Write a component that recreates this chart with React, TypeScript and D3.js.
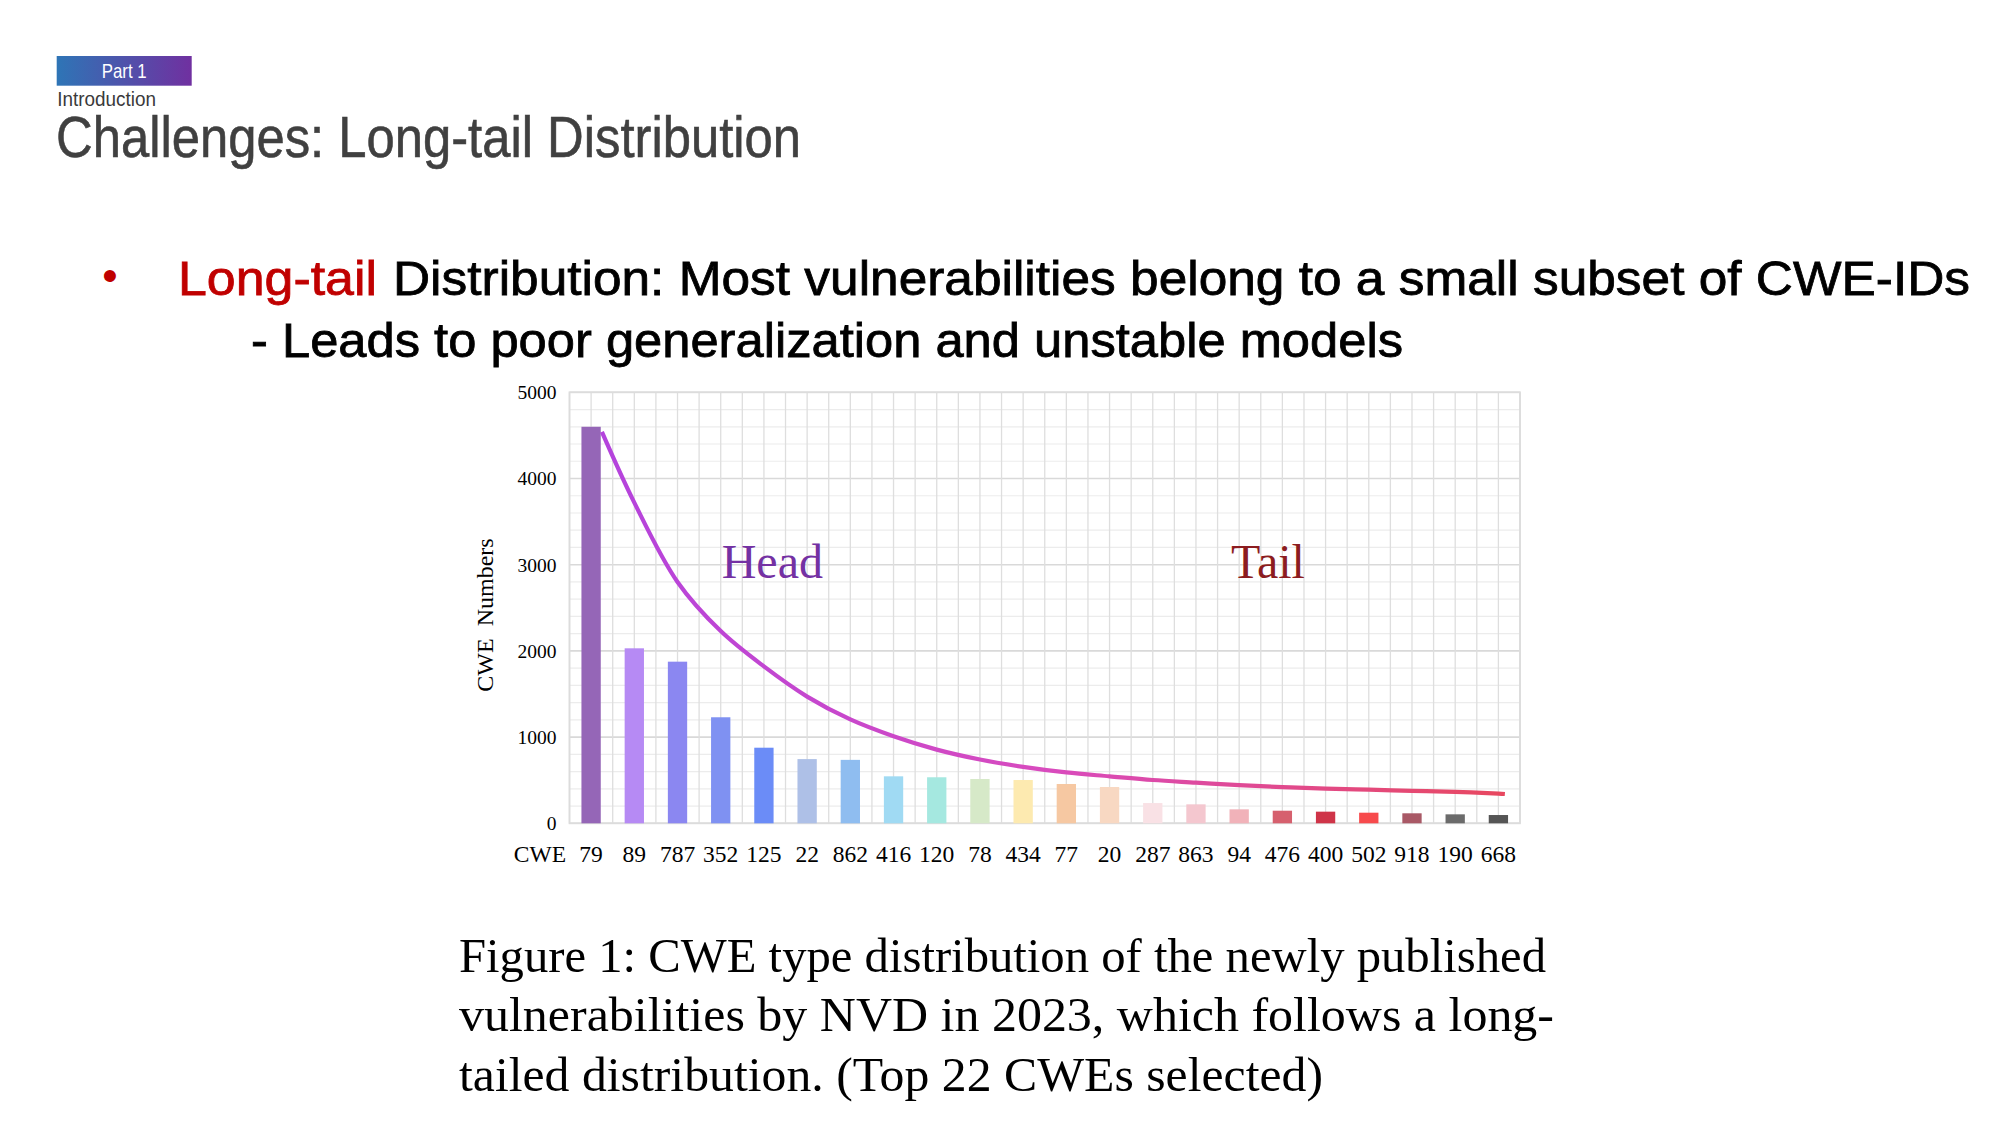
import React from "react";
import * as d3 from "d3";

// CWE categories (x axis) and number of newly published vulnerabilities per CWE
const cweIds = ["79", "89", "787", "352", "125", "22", "862", "416", "120", "78", "434", "77", "20", "287", "863", "94", "476", "400", "502", "918", "190", "668"];
const cweCounts = [4600, 2030, 1875, 1230, 877, 745, 736, 545, 534, 514, 502, 456, 421, 235, 220, 162, 146, 135, 123, 116, 104, 96];
const barColors = [
  "#9566b7", "#b68af4", "#8b87f1", "#7f91f2", "#6b8cf7", "#aec0e7", "#8fbdf0", "#a0daf3",
  "#a5e8e0", "#d6e9c8", "#fdeab0", "#f6c8a2", "#f8d8c2", "#f9e1e5", "#f4c7cf", "#f1b2b9",
  "#d6606e", "#cf3448", "#f74a4c", "#a95966", "#6b6b6b", "#555555",
];

// Smoothed long-tail trend, sampled at category positions (index units)
const trendPos = [0.25, 1, 2, 3, 4, 5, 6, 7, 8, 9, 10, 11, 12, 13, 14, 15, 16, 17, 18, 19, 20, 21, 21.15];
const trendValues = [4540, 3720, 2800, 2230, 1820, 1470, 1205, 1010, 855, 740, 655, 590, 545, 502, 472, 442, 420, 402, 390, 377, 365, 345, 340];

const yTicks = [0, 1000, 2000, 3000, 4000, 5000];
const yMax = 5000;
const yGridStep = 200;

const captionLines = [
  "Figure 1: CWE type distribution of the newly published",
  "vulnerabilities by NVD in 2023, which follows a long-",
  "tailed distribution. (Top 22 CWEs selected)",
];
const captionWidths = [1087, 1095, 864];

const serif = "'Liberation Serif', 'Times New Roman', serif";
const gothic = "'Liberation Sans', Arial, sans-serif";

export default function App() {
  const W = 2000;
  const H = 1125;
  const plot = { left: 569.5, right: 1520, top: 392.3, bottom: 823.3 };

  const x = d3
    .scaleBand<string>()
    .domain(cweIds)
    .range([plot.left, plot.right])
    .paddingInner(0.553)
    .paddingOuter(0.2765);
  const step = x.step();
  const bw = x.bandwidth();
  const y = d3.scaleLinear().domain([0, yMax]).range([plot.bottom, plot.top]);

  const center = (i: number) => (x(cweIds[0]) as number) + bw / 2 + i * step;

  const halfLines = d3.range(0, cweIds.length * 2 + 1).map((k) => plot.left + (k * step) / 2);
  const hLines = d3.range(0, yMax + 1, yGridStep);

  const trend = d3
    .line<number>()
    .x((_, i) => center(trendPos[i]))
    .y((v) => y(v))
    .curve(d3.curveCatmullRom.alpha(0.5))(trendValues) as string;

  return (
    <svg
      width={W}
      height={H}
      viewBox={`0 0 ${W} ${H}`}
      style={{ position: "absolute", left: 0, top: 0, background: "#fff" }}
    >
      <defs>
        <linearGradient id="badgeGrad" x1="0" x2="1" y1="0" y2="0">
          <stop offset="0" stopColor="#2e75b6" />
          <stop offset="1" stopColor="#7030a0" />
        </linearGradient>
        <linearGradient
          id="trendGrad"
          gradientUnits="userSpaceOnUse"
          x1={center(trendPos[0])}
          x2={center(trendPos[trendPos.length - 1])}
          y1={0}
          y2={0}
        >
          <stop offset="0" stopColor="#b443dd" />
          <stop offset="0.5" stopColor="#d94bbd" />
          <stop offset="1" stopColor="#e8485f" />
        </linearGradient>
      </defs>

      {/* Slide header */}
      <rect x={56.7} y={56} width={135} height={29.7} fill="url(#badgeGrad)" />
      <text
        x={124.2}
        y={77.5}
        textAnchor="middle"
        fill="#fff"
        fontFamily={gothic}
        fontSize={21}
        textLength={45}
        lengthAdjust="spacingAndGlyphs"
      >
        Part 1
      </text>
      <text
        x={57.3}
        y={106}
        fill="#3a3a3a"
        fontFamily={gothic}
        fontSize={20}
        textLength={98.7}
        lengthAdjust="spacingAndGlyphs"
      >
        Introduction
      </text>
      <text
        x={56}
        y={157}
        fill="#404040"
        stroke="#404040"
        strokeWidth={0.6}
        fontFamily={gothic}
        fontSize={58}
        textLength={745}
        lengthAdjust="spacingAndGlyphs"
      >
        Challenges: Long-tail Distribution
      </text>

      {/* Bullet text */}
      <text x={110} y={291} textAnchor="middle" fill="#c00000" fontFamily={gothic} fontSize={44}>
        •
      </text>
      <g fontFamily={gothic} fontSize={49} strokeWidth={0.8}>
        <text
          x={178}
          y={295}
          fill="#c00000"
          stroke="#c00000"
          textLength={199}
          lengthAdjust="spacingAndGlyphs"
        >
          Long-tail
        </text>
        <text
          x={393}
          y={295}
          fill="#000"
          stroke="#000"
          textLength={1577}
          lengthAdjust="spacingAndGlyphs"
        >
          Distribution: Most vulnerabilities belong to a small subset of CWE-IDs
        </text>
        <text
          x={251}
          y={357}
          fill="#000"
          stroke="#000"
          textLength={1152}
          lengthAdjust="spacingAndGlyphs"
        >
          - Leads to poor generalization and unstable models
        </text>
      </g>

      {/* Chart grid */}
      <g>
        {hLines.map((v) => (
          <line
            key={`h${v}`}
            x1={plot.left}
            x2={plot.right}
            y1={y(v)}
            y2={y(v)}
            stroke={v % 1000 === 0 ? "#d9d9d9" : "#ececec"}
            strokeWidth={v % 1000 === 0 ? 1.6 : 1.2}
          />
        ))}
        {halfLines.map((px, k) => (
          <line key={`v${k}`} x1={px} x2={px} y1={plot.top} y2={plot.bottom} stroke="#dedede" strokeWidth={1.3} />
        ))}
        <rect
          x={plot.left}
          y={plot.top}
          width={plot.right - plot.left}
          height={plot.bottom - plot.top}
          fill="none"
          stroke="#dcdcdc"
          strokeWidth={1.8}
        />
      </g>

      {/* Bars */}
      <g>
        {cweIds.map((id, i) => (
          <rect
            key={id}
            x={x(id)}
            y={y(cweCounts[i])}
            width={bw}
            height={y(0) - y(cweCounts[i])}
            fill={barColors[i]}
          />
        ))}
      </g>

      {/* Trend curve */}
      <path d={trend} fill="none" stroke="url(#trendGrad)" strokeWidth={4.2} strokeLinecap="butt" />

      {/* Head / Tail annotations */}
      <text x={721.7} y={578.3} fill="#7431a3" fontFamily={serif} fontSize={48}>
        Head
      </text>
      <text x={1231} y={578.3} fill="#8c1c20" fontFamily={serif} fontSize={48}>
        Tail
      </text>

      {/* Y axis ticks and title */}
      <g fontFamily={serif} fontSize={19.5} fill="#000">
        {yTicks.map((t) => (
          <text key={t} x={556.5} y={y(t)} dy="0.35em" textAnchor="end">
            {t}
          </text>
        ))}
      </g>
      <text
        transform={`translate(493,615) rotate(-90)`}
        textAnchor="middle"
        fontFamily={serif}
        fontSize={24}
        fill="#000"
        style={{ whiteSpace: "pre" }}
      >
        {"CWE  Numbers"}
      </text>

      {/* X axis labels */}
      <g fontFamily={serif} fontSize={23.5} fill="#000">
        <text x={566} y={861.5} textAnchor="end">
          CWE
        </text>
        {cweIds.map((id, i) => (
          <text key={id} x={center(i)} y={861.5} textAnchor="middle">
            {id}
          </text>
        ))}
      </g>

      {/* Caption */}
      <g fontFamily={serif} fontSize={48.5} fill="#000">
        {captionLines.map((line, i) => (
          <text
            key={i}
            x={459}
            y={972 + i * 59.3}
            textLength={captionWidths[i]}
            lengthAdjust="spacingAndGlyphs"
          >
            {line}
          </text>
        ))}
      </g>
    </svg>
  );
}
